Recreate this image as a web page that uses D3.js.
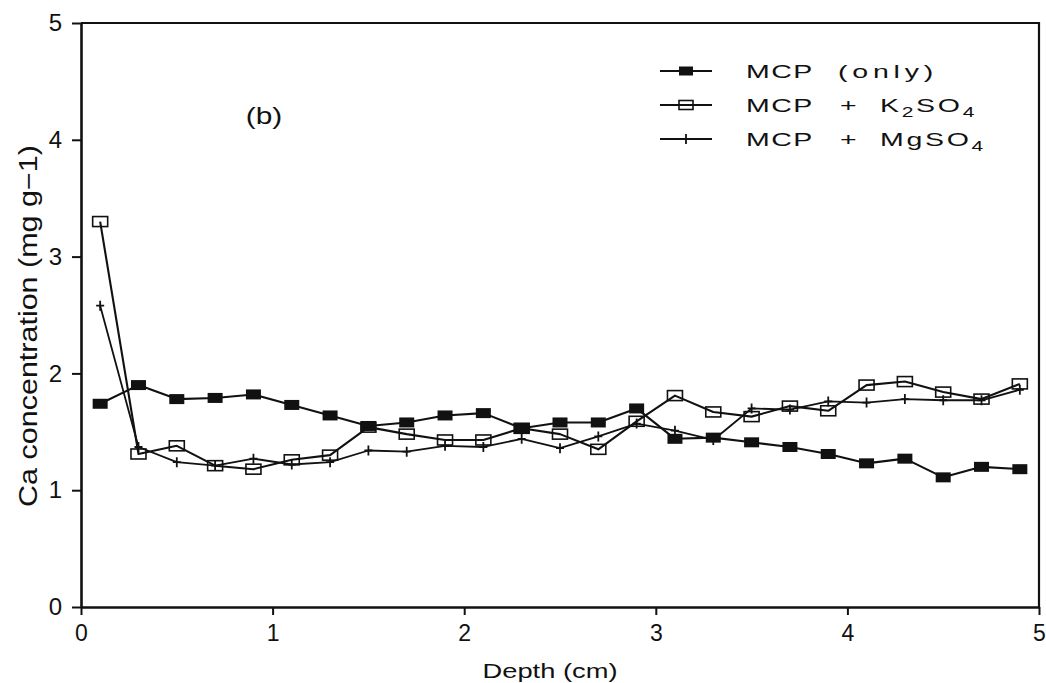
<!DOCTYPE html>
<html>
<head>
<meta charset="utf-8">
<script src="https://cdn.jsdelivr.net/npm/d3@7"></script>
<style>
  html, body { margin: 0; padding: 0; background: #fff; }
  svg { display: block; }
  text { font-family: "Liberation Sans", Arial, sans-serif; fill: #111; }
</style>
</head>
<body>
<svg id="chart" width="1046" height="683"></svg>
<script>
// Depth of each sampled soil slice (cm)
const depth = [0.1, 0.3, 0.5, 0.7, 0.9, 1.1, 1.3, 1.5, 1.7, 1.9, 2.1, 2.3, 2.5,
               2.7, 2.9, 3.1, 3.3, 3.5, 3.7, 3.9, 4.1, 4.3, 4.5, 4.7, 4.9];

// Ca concentration (mg g-1) for each treatment
const mcpOnly = [1.74, 1.90, 1.78, 1.79, 1.82, 1.73, 1.64, 1.55, 1.58, 1.64, 1.66, 1.53, 1.58,
                 1.58, 1.70, 1.44, 1.45, 1.41, 1.37, 1.31, 1.23, 1.27, 1.11, 1.20, 1.18];
const mcpK2SO4 = [3.30, 1.31, 1.38, 1.21, 1.18, 1.26, 1.30, 1.54, 1.48, 1.43, 1.43, 1.53, 1.48,
                  1.35, 1.59, 1.81, 1.67, 1.63, 1.72, 1.68, 1.90, 1.93, 1.84, 1.78, 1.91];
const mcpMgSO4 = [2.58, 1.37, 1.24, 1.21, 1.27, 1.22, 1.24, 1.34, 1.33, 1.38, 1.37, 1.44, 1.36,
                  1.46, 1.57, 1.51, 1.43, 1.70, 1.69, 1.76, 1.75, 1.78, 1.77, 1.77, 1.86];

const xTicks = [0, 1, 2, 3, 4, 5];
const yTicks = [0, 1, 2, 3, 4, 5];

const svg = d3.select("#chart");
const plotLeft = 81, plotRight = 1039, plotTop = 23, plotBottom = 607;

const x = d3.scaleLinear().domain([0, 5]).range([plotLeft, plotRight]);
const y = d3.scaleLinear().domain([0, 5]).range([plotBottom, plotTop]);

// Frame: top and right edges
svg.append("path")
  .attr("d", `M${plotLeft},${plotTop}H${plotRight}V${plotBottom}`)
  .attr("fill", "none").attr("stroke", "#111").attr("stroke-width", 2.2);

// Axes
const gx = svg.append("g").attr("transform", `translate(0,${plotBottom})`)
  .call(d3.axisBottom(x).tickValues(xTicks).tickFormat(d3.format("d"))
          .tickSize(8).tickPadding(10).tickSizeOuter(0));
const gy = svg.append("g").attr("transform", `translate(${plotLeft},0)`)
  .call(d3.axisLeft(y).tickValues(yTicks).tickFormat(d3.format("d"))
          .tickSize(9).tickPadding(10).tickSizeOuter(0));

[gx, gy].forEach(g => {
  g.select(".domain").attr("stroke", "#111").attr("stroke-width", 2.6);
  g.selectAll(".tick line").attr("stroke", "#111").attr("stroke-width", 2);
  g.selectAll(".tick text").attr("fill", "#111")
    .style("font-family", "'Liberation Sans', Arial, sans-serif");
});
gx.selectAll(".tick text").style("font-size", "23px");
gy.selectAll(".tick text").style("font-size", "24px");

// Axis titles (wide plotter-style lettering via horizontal stretch)
svg.append("text")
  .attr("transform", "translate(550,678) scale(1.3,1)")
  .attr("text-anchor", "middle")
  .style("font-size", "21px")
  .text("Depth (cm)");

svg.append("text")
  .attr("transform", "translate(37,326) rotate(-90) scale(1.22,1)")
  .attr("text-anchor", "middle")
  .style("font-size", "25px")
  .text("Ca concentration (mg g\u22121)");

// Panel label
svg.append("text")
  .attr("transform", "translate(264,124) scale(1.3,1)")
  .attr("text-anchor", "middle")
  .style("font-size", "23px")
  .text("(b)");

// Series
const line = d3.line().x(d => x(d[0])).y(d => y(d[1]));
const series = [
  { name: "only", values: mcpOnly, marker: "filled" },
  { name: "k2so4", values: mcpK2SO4, marker: "open" },
  { name: "mgso4", values: mcpMgSO4, marker: "plus" }
];

function drawMarker(g, kind, cx, cy, w, h) {
  if (kind === "filled") {
    g.append("rect").attr("x", cx - w / 2).attr("y", cy - h / 2)
      .attr("width", w).attr("height", h).attr("fill", "#111");
  } else if (kind === "open") {
    g.append("rect").attr("x", cx - w / 2).attr("y", cy - h / 2)
      .attr("width", w).attr("height", h)
      .attr("fill", "none").attr("stroke", "#111").attr("stroke-width", 1.6);
  } else {
    g.append("path")
      .attr("d", `M${cx - 4},${cy}H${cx + 4}M${cx},${cy - 5}V${cy + 5}`)
      .attr("stroke", "#111").attr("stroke-width", 1.8).attr("fill", "none");
  }
}

series.forEach(s => {
  const pts = depth.map((d, i) => [d, s.values[i]]);
  svg.append("path").datum(pts)
    .attr("d", line)
    .attr("fill", "none").attr("stroke", "#111")
    .attr("stroke-width", s.marker === "plus" ? 1.8 : 2.1)
    .attr("stroke-linejoin", "round");
  const g = svg.append("g");
  pts.forEach(p => drawMarker(g, s.marker, x(p[0]), y(p[1]), 15, 10));
});

// Legend (wide lettering: each piece is stretched horizontally)
const legendRows = [
  { marker: "filled", y: 71, parts: [["MCP", 746, 1], ["(only)", 838, 3.2]] },
  { marker: "open", y: 105, parts: [["MCP", 746, 1], ["+", 840, 0]], formula: ["K", "2", "SO", "4"] },
  { marker: "plus", y: 139, parts: [["MCP", 746, 1], ["+", 840, 0]], formula: ["Mg", "", "SO", "4"] }
];
const stretch = 1.5;

const lg = svg.append("g");
legendRows.forEach(r => {
  lg.append("line").attr("x1", 660).attr("x2", 712)
    .attr("y1", r.y).attr("y2", r.y)
    .attr("stroke", "#111").attr("stroke-width", r.marker === "plus" ? 1.8 : 2.1);
  drawMarker(lg, r.marker, 686, r.y, 14, 9);
  const base = r.y + 7;
  r.parts.forEach(([t, px, ls]) => {
    lg.append("text")
      .attr("transform", `translate(${px},${base}) scale(${stretch},1)`)
      .style("font-size", "19px").style("letter-spacing", `${ls}px`)
      .text(t);
  });
  if (r.formula) {
    const t = lg.append("text")
      .attr("transform", `translate(880,${base}) scale(${stretch},1)`)
      .style("font-size", "19px").style("letter-spacing", "1.8px");
    const [a, sub1, b, sub2] = r.formula;
    t.append("tspan").text(a);
    if (sub1) t.append("tspan").attr("dy", 5).style("font-size", "14px").text(sub1);
    t.append("tspan").attr("dy", sub1 ? -5 : 0).text(b);
    t.append("tspan").attr("dy", 5).style("font-size", "14px").text(sub2);
  }
});
</script>
</body>
</html>
